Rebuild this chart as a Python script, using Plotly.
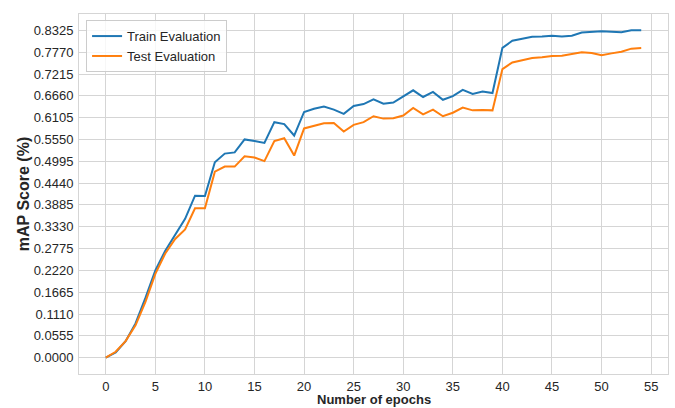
import plotly.graph_objects as go

epochs = list(range(55))
train_map = [0.0, 0.013, 0.042, 0.087, 0.152, 0.222, 0.272, 0.314, 0.353, 0.412, 0.411,
             0.497, 0.519, 0.522, 0.555, 0.551, 0.546, 0.599, 0.594, 0.565, 0.625,
             0.633, 0.639, 0.631, 0.620, 0.640, 0.645, 0.657, 0.646, 0.649, 0.665,
             0.680, 0.663, 0.676, 0.656, 0.665, 0.681, 0.671, 0.677, 0.673, 0.788,
             0.806, 0.811, 0.816, 0.817, 0.819, 0.817, 0.819, 0.827, 0.829, 0.830,
             0.829, 0.828, 0.8325, 0.8325]
test_map = [0.0, 0.015, 0.042, 0.082, 0.142, 0.213, 0.265, 0.302, 0.326, 0.380, 0.380,
            0.473, 0.486, 0.486, 0.512, 0.509, 0.500, 0.551, 0.558, 0.514, 0.583,
            0.590, 0.596, 0.597, 0.575, 0.592, 0.599, 0.614, 0.608, 0.609, 0.616,
            0.635, 0.619, 0.631, 0.614, 0.623, 0.636, 0.629, 0.630, 0.629, 0.734,
            0.751, 0.757, 0.762, 0.764, 0.767, 0.768, 0.773, 0.777, 0.775, 0.769,
            0.774, 0.778, 0.786, 0.7875]
y_ticks = [round(0.0555 * i, 4) for i in range(16)]
y_tick_text = [f"{v:.4f}" for v in y_ticks]
x_ticks = list(range(0, 56, 5))

grid = "#d5d5d5"
font_fam = "Liberation Sans, Arial, sans-serif"

fig = go.Figure()
fig.add_trace(go.Scatter(x=epochs, y=train_map, mode="lines", name="Train Evaluation",
                         line=dict(color="#1f77b4", width=2)))
fig.add_trace(go.Scatter(x=epochs, y=test_map, mode="lines", name="Test Evaluation",
                         line=dict(color="#ff7f0e", width=2)))

ymax = max(train_map + test_map)
ymin = 0.0
pad = 0.05 * (ymax - ymin)

fig.update_layout(
    width=675, height=408,
    margin=dict(l=79, r=7, t=14, b=34, autoexpand=False),
    paper_bgcolor="white", plot_bgcolor="white",
    font=dict(family=font_fam, size=13, color="#262626"),
    showlegend=True,
    legend=dict(x=0.012, y=0.983, xanchor="left", yanchor="top",
                bgcolor="rgba(255,255,255,0.8)", bordercolor="#cccccc", borderwidth=1,
                font=dict(size=13, color="#262626"), tracegroupgap=0),
    xaxis=dict(range=[-2.7, 56.7], tickmode="array", tickvals=x_ticks,
               showgrid=True, gridcolor=grid, gridwidth=1, automargin=False,
               zeroline=False, showline=True, linecolor=grid, linewidth=1, mirror=True,
               ticks="", ticklen=0, ticklabelstandoff=0),
    yaxis=dict(range=[ymin - pad, ymax + pad], tickmode="array", tickvals=y_ticks,
               ticktext=y_tick_text, automargin=False,
               showgrid=True, gridcolor=grid, gridwidth=1,
               zeroline=False, showline=True, linecolor=grid, linewidth=1, mirror=True,
               ticks="", ticklen=0, ticklabelstandoff=2,
               title=dict(text="<b>mAP Score (%)</b>", font=dict(size=16, color="#262626"),
                          standoff=0)),
    annotations=[dict(text="<b>Number of epochs</b>", xref="paper", yref="paper",
                      x=0.5, y=0, xanchor="center", yanchor="top", yshift=-17,
                      borderpad=0, showarrow=False, font=dict(size=13, color="#262626"))],
)

fig.write_html("out.html")
